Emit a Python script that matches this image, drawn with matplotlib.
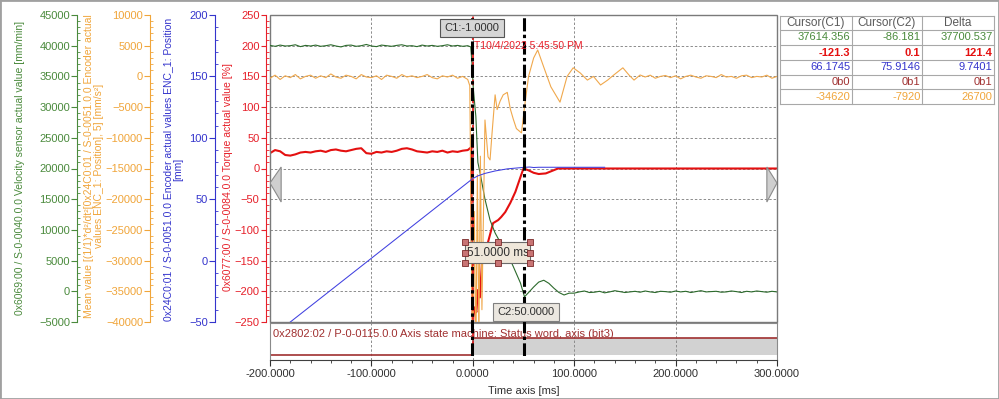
import matplotlib
matplotlib.use("Agg")
import matplotlib.pyplot as plt
from matplotlib.ticker import MultipleLocator, FuncFormatter
from matplotlib.patches import Rectangle, Polygon

plt.rcParams['font.family'] = ['Liberation Sans', 'DejaVu Sans']

# ---------------- data ----------------
t_pre = list(range(-200, -4, 5))          # sample times before the event [ms]

green_pre = [40050, 39900, 40100, 39950, 40000, 40150, 39850, 40050, 39950, 40100,
             39900, 40000, 40150, 39950, 39800, 40050, 40100, 39900, 40000, 40200,
             39950, 39850, 40100, 40000, 39900, 40050, 40150, 39950, 40000, 39850,
             40100, 39950, 40050, 39900, 40000, 40150, 39950, 40050, 39900, 40000]
green_t_evt = [-2, -1, 0.5, 3, 5, 7.5, 12, 17, 22, 27, 34, 40, 47, 51, 55, 60, 65, 70,
               75, 80, 85, 90, 95]
green_evt = [39800, 37614, 33000, 28500, 21000, 19000, 15000, 11600, 9500, 8000, 6200,
             4000, 1350, -900, -200, 700, 1500, 1800, 1300, 500, -200, -600, -300]
green_t_post = list(range(100, 301, 5))
green_post = [-300, -100, 50, -200, -150, 0, -250, -100, 100, -50,
              -200, -100, 0, -150, 50, -100, -200, 0, -50, -150,
              50, -100, 0, -200, -50, 100, -100, -50, 0, -150,
              -100, 50, -50, -200, 0, -100, 50, -50, -150, 0, -100]

orange_pre = [-300, 200, -500, 100, -200, 300, -400, 0, 200, -300,
              100, -200, 400, -100, -300, 200, 0, -400, 300, -100,
              -200, 100, -500, 200, 0, -300, 300, -100, 100, -200,
              0, 300, -200, -400, 100, -100, 200, -300, 0, -500]
orange_t_evt = [-3, -1, 0, 1.5, 3, 4.5, 6, 7.5, 9, 12, 15, 17, 19, 22, 24, 27, 30, 34,
                37, 40, 43, 48, 51, 55, 60, 64, 70, 77, 86, 93, 99, 106, 113, 119, 126,
                133, 139, 148, 154, 159, 165]
orange_evt = [-1500, -34620, -46000, -22000, -46000, -16000, -43000, -13000, -38000,
              -7100, -13100, -13600, -9200, -3000, -5400, -4000, -3000, -2600, -5300,
              -7000, -8500, -9200, -5000, 0, 3000, 4300, 1500, -1700, -4200, 0, 1400,
              550, -600, 0, -1400, -600, 230, 1400, 230, -600, 230]
orange_t_post = list(range(170, 301, 5))
orange_post = [-100, 200, -300, 0, 150, -200, 100, -400, 0, 200, -100, -300, 100, 0,
               -200, 300, -100, 0, -300, 100, 200, -200, 0, -100, 200, -300, 0]

red_pre = [25, 30, 28, 22, 21, 23, 26, 27, 26, 28,
           29, 27, 30, 31, 29, 28, 30, 32, 33, 25,
           24, 27, 26, 28, 27, 29, 32, 33, 31, 28,
           27, 26, 28, 27, 29, 26, 28, 27, 29, 30]
red_t_evt = [-2, -1.5, -1, 0, 0.5, 2, 3.5, 5, 7, 9, 15, 20, 25, 28, 32, 37, 42, 47, 50,
             55, 60, 65, 72, 78, 84, 300]
red_evt = [34, 35, -121.3, -260, -242, -226, -234, -198, -210, -154, -120, -89, -84,
           -79, -71, -56, -38, -14, 0.1, -3, -7, -9, -8, -4, 0, 0]

blue_t = [-200, -1, 0, 5, 12, 22, 34, 50, 56, 60, 65, 130]
blue = [-63.0, 66.17, 66.8, 69.0, 71.0, 73.0, 74.7, 75.91, 76.2, 75.8, 76.0, 76.0]

status_t = [-200, 0, 300]
status = [0, 1, 1]

cursor_c1 = -1.0
cursor_c2 = 50.0
trigger_t = 0.0
trigger_label = "T10/4/2022 5:45:50 PM"

table_header = ["Cursor(C1)", "Cursor(C2)", "Delta"]
table_c1 = ["37614.356", "-121.3", "66.1745", "0b0", "-34620"]
table_c2 = ["-86.181", "0.1", "75.9146", "0b1", "-7920"]
table_delta = ["37700.537", "121.4", "9.7401", "0b1", "26700"]

green_label = "0x6069:00 / S-0-0040.0.0 Velocity sensor actual value [mm/min]"
orange_label = ("Mean value [(1/1)*d\u00b2/dt\u00b2[0x24C0:01 / S-0-0051.0.0 Encoder actual\n"
                "values ENC_1: Position], 5] [mm/s\u00b2]")
blue_label = "0x24C0:01 / S-0-0051.0.0 Encoder actual values ENC_1: Position\n[mm]"
red_label = "0x6077:00 / S-0-0084.0.0 Torque actual value [%]"
strip_label = "0x2802:02 / P-0-0115.0.0 Axis state machine: Status word, axis (bit3)"
x_label = "Time axis [ms]"

# ---------------- styles ----------------
C_GREEN_T = '#4a8a3c'
C_GREEN = '#2c6a2c'
C_ORANGE_T = '#f0a53a'
C_ORANGE = '#f0a84c'
C_BLUE_T = '#3434cc'
C_BLUE = '#4040e0'
C_RED_T = '#e6202a'
C_RED = '#e41010'
C_DARKRED = '#a03030'

W, H = 999, 399
fig = plt.figure(figsize=(W / 100, H / 100), dpi=100)
fig.patch.set_facecolor('white')


def rect(x0, y0, x1, y1):
    return [x0 / W, 1 - y1 / H, (x1 - x0) / W, (y1 - y0) / H]


L, R, T, B = 270, 777, 15, 322

# main (torque) axes
ax = fig.add_axes(rect(L, T, R, B))
ax.set_xlim(-200, 300)
ax.set_ylim(-250, 250)
for s in ['top', 'right', 'bottom']:
    ax.spines[s].set_visible(False)
ax.spines['left'].set_position(('outward', 3))
ax.spines['left'].set_color(C_RED_T)
ax.yaxis.set_major_locator(MultipleLocator(50))
ax.yaxis.set_minor_locator(MultipleLocator(10))
ax.tick_params(axis='y', which='major', colors=C_RED_T, labelsize=8, length=3.5, pad=1)
ax.tick_params(axis='y', which='minor', colors=C_RED_T, length=2.5, direction='in')
ax.set_xticks([-100, 0, 100, 200])
ax.tick_params(axis='x', length=0, labelbottom=False)
ax.grid(True, color='#8c8c8c', linestyle=(0, (2.5, 2)), linewidth=0.7)
ax.add_patch(Rectangle((0, 0), 1, 1, transform=ax.transAxes, fill=False,
                       edgecolor='#7a7a7a', lw=1, zorder=20, clip_on=False))
ax.plot(t_pre + red_t_evt, red_pre + red_evt, color=C_RED, lw=1.5, zorder=3)


def make_twin(pos, ylim, major, minor, color):
    a = ax.twinx()
    a.set_ylim(*ylim)
    for s in ['top', 'right', 'bottom']:
        a.spines[s].set_visible(False)
    a.spines['left'].set_visible(True)
    a.spines['left'].set_position(('axes', pos))
    a.spines['left'].set_color(color)
    a.yaxis.set_ticks_position('left')
    a.yaxis.set_label_position('left')
    a.yaxis.set_major_locator(MultipleLocator(major))
    a.yaxis.set_minor_locator(MultipleLocator(minor))
    a.tick_params(axis='y', which='major', colors=color, labelsize=8, length=4, pad=1)
    a.tick_params(axis='y', which='minor', colors=color, length=2.5, direction='in')
    return a


axg = make_twin((77 - L) / (R - L), (-5000, 45000), 5000, 1000, C_GREEN_T)
axo = make_twin((150 - L) / (R - L), (-40000, 10000), 5000, 1000, C_ORANGE_T)
axb = make_twin((215 - L) / (R - L), (-50, 200), 50, 10, C_BLUE_T)

axg.plot(t_pre + green_t_evt + green_t_post, green_pre + green_evt + green_post,
         color=C_GREEN, lw=0.8)
axo.plot(t_pre + orange_t_evt + orange_t_post, orange_pre + orange_evt + orange_post,
         color=C_ORANGE, lw=0.8)
axb.plot(blue_t, blue, color=C_BLUE, lw=0.75)

# axis titles
fig.text(20 / W, 1 - 168 / H, green_label, rotation=90, ha='center', va='center',
         color=C_GREEN_T, fontsize=7.5)
fig.text(94 / W, 1 - 166 / H, orange_label, rotation=90, ha='center', va='center',
         multialignment='center', color=C_ORANGE_T, fontsize=7.5, linespacing=1.05)
fig.text(173 / W, 1 - 169 / H, blue_label, rotation=90, ha='center', va='center',
         multialignment='center', color=C_BLUE_T, fontsize=7.5, linespacing=1.05)
fig.text(228 / W, 1 - 177 / H, red_label, rotation=90, ha='center', va='center',
         color=C_RED_T, fontsize=7.5)

# digital strip
axs = fig.add_axes(rect(L, 323, R, 360))
axs.set_xlim(-200, 300)
axs.set_ylim(-0.294, 1.882)
axs.set_yticks([])
for s in ['top', 'left', 'right']:
    axs.spines[s].set_color('#8a8a8a')
axs.spines['bottom'].set_color('#404040')
axs.xaxis.set_major_locator(MultipleLocator(100))
axs.xaxis.set_minor_locator(MultipleLocator(20))
axs.xaxis.set_major_formatter(FuncFormatter(lambda v, p: f"{v:.4f}"))
axs.tick_params(axis='x', which='major', length=4.5, labelsize=8, colors='#303030', pad=2)
axs.tick_params(axis='x', which='minor', length=2.5, colors='#303030')
axs.grid(True, axis='x', color='#8c8c8c', linestyle=(0, (2.5, 2)), linewidth=0.7)
axs.fill_between(status_t, 0, status, step='post', color='#d2d2d2', lw=0)
axs.step(status_t, status, where='post', color=C_DARKRED, lw=1.2)
axs.text(0.006, 0.70, strip_label, transform=axs.transAxes, color=C_DARKRED,
         fontsize=8, va='center', ha='left')
axs.set_xlabel(x_label, fontsize=8, color='#303030', labelpad=5)

# overlay for cursors and annotations (y in pixels)
ov = fig.add_axes(rect(L, T, R, 356))
ov.set_xlim(-200, 300)
ov.set_ylim(356, T)
ov.axis('off')
ov.patch.set_visible(False)
ov.axvline(trigger_t, color='#e02020', lw=1.3, ls=(0, (3, 2)))
dashdot = (0, (4.3, 1.1, 1.1, 1.1))
ov.axvline(cursor_c1, color='black', lw=2.2, ls=dashdot)
ov.axvline(cursor_c2, color='black', lw=2.2, ls=dashdot)

ov.text(trigger_t + 1.5, 46, trigger_label, color='#e8202a', fontsize=7.5,
        ha='left', va='center', zorder=6)
ov.text(cursor_c1, 28, f"C1:{cursor_c1:.4f}", ha='center', va='center', fontsize=8,
        color='#303030', zorder=10,
        bbox=dict(boxstyle='square,pad=0.4', fc='#d6d6d6', ec='#555555', lw=0.8))
ov.text(cursor_c2 + 2, 312, f"C2:{cursor_c2:.4f}", ha='center', va='center', fontsize=8,
        color='#303030', zorder=10,
        bbox=dict(boxstyle='square,pad=0.4', fc='#ebe7e0', ec='#808080', lw=0.8))

mid = (cursor_c1 + cursor_c2) / 2
bx0, bx1, by0, by1 = mid - 32, mid + 32, 242, 263
ov.add_patch(Rectangle((bx0, by0), bx1 - bx0, by1 - by0, fc='#efe7da', ec='#6a6a6a',
                       lw=0.8, zorder=9))
ov.text(mid, (by0 + by1) / 2, f"{cursor_c2 - cursor_c1:.4f} ms", ha='center', va='center',
        fontsize=8.5, color='#303030', zorder=10)
hx = [bx0, mid, bx1, bx0, bx1, bx0, mid, bx1]
hy = [by0, by0, by0, (by0 + by1) / 2, (by0 + by1) / 2, by1, by1, by1]
ov.plot(hx, hy, ls='none', marker='s', ms=3.8, mfc='#c87474', mec='#7a2a2a', mew=0.6,
        zorder=11)

# scroll triangles
ov.add_patch(Polygon([(-200, 183), (-189, 167), (-189, 202)], closed=True,
                     fc='#cfcfcf', ec='#8a8a8a', lw=0.8, zorder=8))
ov.add_patch(Polygon([(300, 183), (290, 167), (290, 202)], closed=True,
                     fc='#cfcfcf', ec='#8a8a8a', lw=0.8, zorder=8))

# cursor table
axt = fig.add_axes(rect(780, 16, 994, 104))
axt.set_xlim(780, 994)
axt.set_ylim(104, 16)
axt.axis('off')
row_y = [16, 30, 45, 60, 75, 89, 104]
col_x = [780, 852, 922, 994]
for yv in row_y:
    axt.plot([col_x[0], col_x[-1]], [yv, yv], color='#a8a8a8', lw=0.8, clip_on=False)
for xv in col_x:
    axt.plot([xv, xv], [row_y[0], row_y[-1]], color='#a8a8a8', lw=0.8, clip_on=False)
for i, htxt in enumerate(table_header):
    axt.text((col_x[i] + col_x[i + 1]) / 2, (row_y[0] + row_y[1]) / 2, htxt,
             ha='center', va='center', fontsize=8.5, color='#5a5a5a')
row_colors = [C_GREEN_T, C_RED, C_BLUE_T, C_DARKRED, C_ORANGE_T]
row_weights = ['normal', 'bold', 'normal', 'normal', 'normal']
for j, col in enumerate([table_c1, table_c2, table_delta]):
    for i, val in enumerate(col):
        axt.text(col_x[j + 1] - 1.5, (row_y[i + 1] + row_y[i + 2]) / 2, val,
                 ha='right', va='center', fontsize=8, color=row_colors[i],
                 fontweight=row_weights[i])

# outer frame
fig.add_artist(Rectangle((0, 0), 1, 1, transform=fig.transFigure, fill=False,
                         edgecolor='#a0a0a0', lw=2))

fig.savefig("out.png", dpi=100)
